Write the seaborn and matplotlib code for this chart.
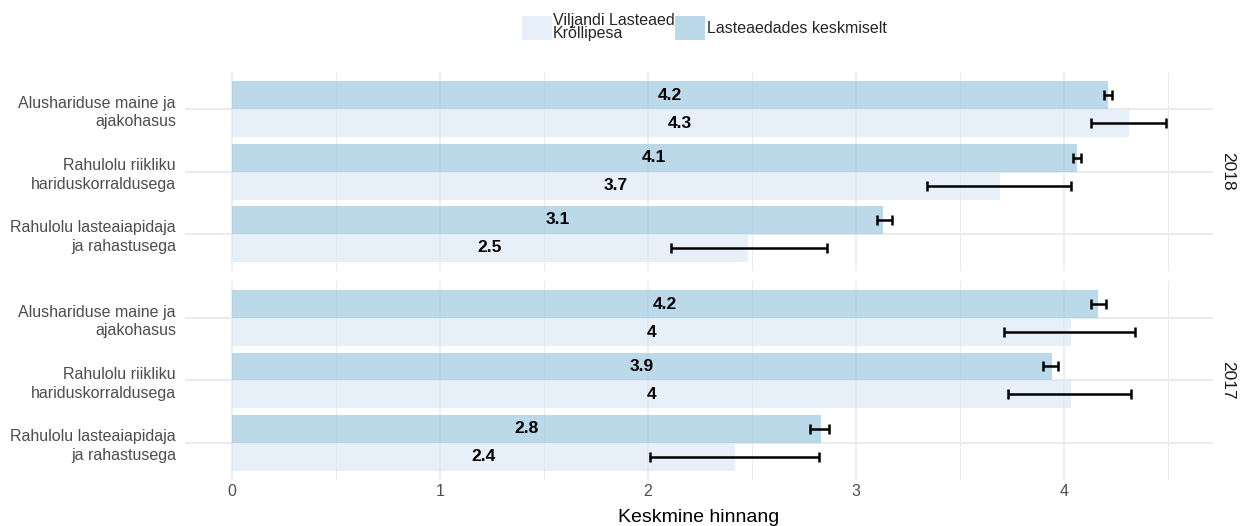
import numpy as np
import pandas as pd
import seaborn as sns
import matplotlib
matplotlib.use("Agg")
import matplotlib.pyplot as plt
from matplotlib.patches import Patch

# ---------------- data ----------------
categories = ["Alushariduse maine ja\najakohasus",
              "Rahulolu riikliku\nhariduskorraldusega",
              "Rahulolu lasteaiapidaja\nja rahastusega"]
years = ["2018", "2017"]
series = ["Lasteaedades keskmiselt", "Viljandi Lasteaed Krõllipesa"]

avg_2018 = [4.21, 4.06, 3.13]
avg_2018_lo = [4.19, 4.04, 3.10]
avg_2018_hi = [4.23, 4.08, 3.17]
school_2018 = [4.31, 3.69, 2.48]
school_2018_lo = [4.13, 3.34, 2.11]
school_2018_hi = [4.49, 4.03, 2.86]

avg_2017 = [4.16, 3.94, 2.83]
avg_2017_lo = [4.13, 3.90, 2.78]
avg_2017_hi = [4.20, 3.97, 2.87]
school_2017 = [4.03, 4.03, 2.42]
school_2017_lo = [3.71, 3.73, 2.01]
school_2017_hi = [4.34, 4.32, 2.82]

x_ticks = [0, 1, 2, 3, 4]
x_title = "Keskmine hinnang"

values = {
    "2018": {series[0]: (avg_2018, avg_2018_lo, avg_2018_hi),
             series[1]: (school_2018, school_2018_lo, school_2018_hi)},
    "2017": {series[0]: (avg_2017, avg_2017_lo, avg_2017_hi),
             series[1]: (school_2017, school_2017_lo, school_2017_hi)},
}

# ---------------- style ----------------
sns.set_theme(style="white")
plt.rcParams["font.family"] = ["Liberation Sans", "DejaVu Sans"]

col_avg = (158/255, 202/255, 225/255, 0.7)
col_school = (222/255, 235/255, 247/255, 0.7)
palette = {series[0]: col_avg, series[1]: col_school}
grid_col = "#ebebeb"
txt_grey = "#4d4d4d"

W, H = 1240, 526
fig, axes = plt.subplots(2, 1, figsize=(W/100, H/100), dpi=100, sharex=True)
fig.subplots_adjust(left=185/W, right=1213/W, top=1-72/H, bottom=1-480/H,
                    hspace=0.05)

all_hi = avg_2018_hi + school_2018_hi + avg_2017_hi + school_2017_hi
xmax = max(all_hi)
pad = 0.05 * xmax

for ax, yr in zip(axes, years):
    rows = []
    for s in series:
        v, lo, hi = values[yr][s]
        for c, vv, l, h in zip(categories, v, lo, hi):
            rows.append({"cat": c, "series": s, "value": vv, "lo": l, "hi": h})
    df = pd.DataFrame(rows)
    ax.set_axisbelow(True)
    sns.barplot(data=df, y="cat", x="value", hue="series", order=categories,
                hue_order=series, palette=palette, orient="h", width=0.9,
                errorbar=None, legend=False, ax=ax, saturation=1,
                linewidth=0, edgecolor="none")
    # error bars and labels positioned from the drawn bars
    bars = [p for p in ax.patches]
    k = 0
    for s in series:
        sub = df[df["series"] == s].set_index("cat").loc[categories]
        for c in categories:
            p = bars[k]; k += 1
            yc = p.get_y() + p.get_height() / 2
            r = sub.loc[c]
            ax.errorbar(x=r["value"], y=yc,
                        xerr=[[r["value"] - r["lo"]], [r["hi"] - r["value"]]],
                        fmt="none", ecolor="black", elinewidth=1.8,
                        capsize=3.4, capthick=1.8, zorder=5)
            lab = f"{round(r['value'], 1):g}"
            ax.text(r["value"] / 2, yc, lab, ha="center", va="center",
                    fontsize=12.5, fontweight="bold", color="black", zorder=6)

    ax.set_xlim(-pad, xmax + pad)
    ax.set_ylim(2.6, -0.6)
    ax.set_xticks(x_ticks)
    ax.set_xticks(np.arange(0.5, xmax + pad, 1.0), minor=True)
    ax.grid(True, axis="x", which="major", color=grid_col, linewidth=1.2)
    ax.grid(True, axis="x", which="minor", color=grid_col, linewidth=0.7)
    ax.grid(True, axis="y", which="major", color=grid_col, linewidth=1.5)
    for sp in ax.spines.values():
        sp.set_visible(False)
    ax.set_ylabel("")
    ax.set_xlabel("")
    ax.tick_params(axis="both", which="both", length=0)
    ax.tick_params(axis="y", labelsize=11.5, labelcolor=txt_grey, pad=6.5)
    ax.tick_params(axis="x", labelsize=11.5, labelcolor=txt_grey, pad=3)
    for t in ax.get_yticklabels():
        t.set_horizontalalignment("right")
        t.set_multialignment("right")
        t.set_linespacing(1.3)
    ax.text(1.0145, 0.5, yr, transform=ax.transAxes, rotation=-90,
            ha="center", va="center", fontsize=12.5, color="#1a1a1a")

axes[1].set_xlabel(x_title, fontsize=14, color="black", labelpad=7)

handles = [Patch(facecolor=col_school, edgecolor="none"),
           Patch(facecolor=col_avg, edgecolor="none")]
labels = ["Viljandi Lasteaed\nKrõllipesa", "Lasteaedades keskmiselt"]
leg = fig.legend(handles, labels, loc="center", bbox_to_anchor=(704/W, 1-27/H),
                 ncol=2, frameon=False, fontsize=11.5, handlelength=1.9,
                 handleheight=2.0, handletextpad=0.08, columnspacing=0.0,
                 borderaxespad=0)
for t in leg.get_texts():
    t.set_linespacing(0.9)

fig.savefig("out.png", dpi=100)
